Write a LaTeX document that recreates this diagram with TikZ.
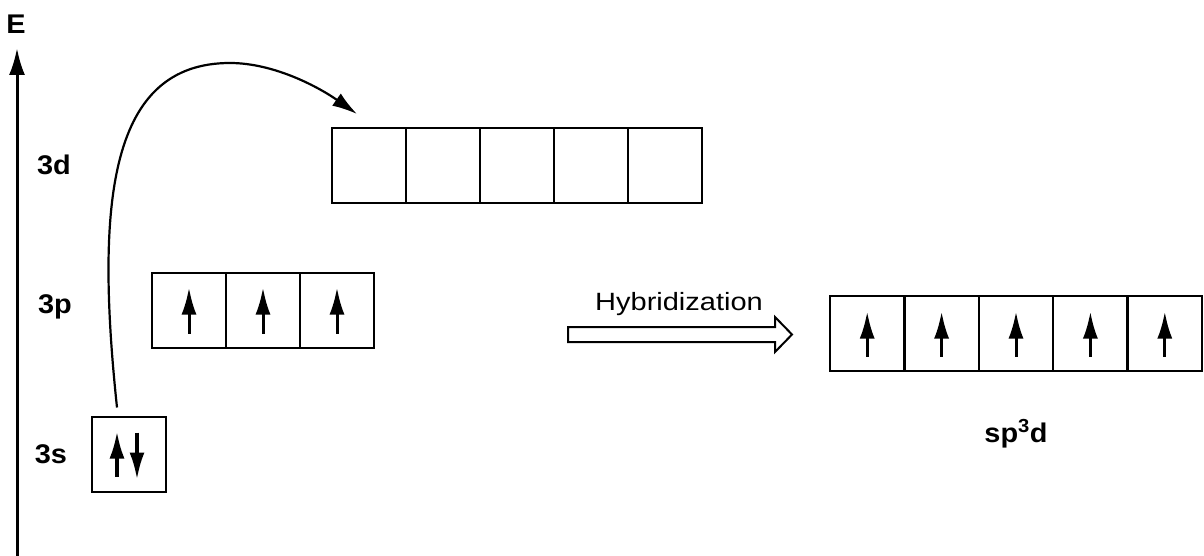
\documentclass[tikz,border=0pt]{standalone}
\usepackage{graphicx}
\usepackage{fontspec}
\setmainfont{Liberation Sans}
\usetikzlibrary{arrows.meta}

\tikzset{
  orb/.style={draw, line width=2pt, minimum width=74pt, minimum height=75pt, inner sep=0pt, outer sep=0pt},
  spin/.style={line width=3pt, -{Latex[length=27pt,width=15pt]}},
  lvl/.style={font=\fontsize{27}{32}\selectfont\bfseries, anchor=base, inner sep=0pt},
}
\newcommand{\wide}[1]{\scalebox{1.07}[1]{#1}}

\begin{document}
\begin{tikzpicture}[x=1pt,y=-1pt]
\useasboundingbox (0,0) rectangle (1204,556);

% energy axis
\coordinate (Ebot) at (17,556);
\coordinate (Etop) at (17,48);
\draw[line width=3pt, -{Latex[length=27pt,width=16pt]}] (Ebot) -- (Etop);
\node[lvl] (E) at (16,34) {\wide{E}};

% level labels
\node[lvl] (l3d) at (54,175) {\wide{3d}};
\node[lvl] (l3p) at (55,313) {\wide{3p}};
\node[lvl] (l3s) at (51,463) {\wide{3s}};

% orbital boxes
\foreach \i in {1,...,5}
  \node[orb] (d\i) at ({369+74*(\i-1)},165.5) {};
\foreach \i in {1,2,3}
  \node[orb] (p\i) at ({189+74*(\i-1)},310.5) {};
\node[orb] (s1) at (128.5,454.5) {};
\foreach \i in {1,...,5}
  \node[orb] (h\i) at ({867.2+74.4*(\i-1)},333.5) {};

% electrons
\foreach \i in {1,2,3}
  \draw[spin] ([yshift=-23pt]p\i.center) -- ([yshift=23pt]p\i.center);
\foreach \i in {1,...,5}
  \draw[spin] ([yshift=-23pt]h\i.center) -- ([yshift=22pt]h\i.center);
\draw[spin, line width=3.4pt] ([xshift=-11.5pt,yshift=-22pt]s1.center) -- ([xshift=-11.5pt,yshift=23pt]s1.center);
\draw[spin, line width=3.4pt] ([xshift=8.5pt,yshift=22pt]s1.center) -- ([xshift=8.5pt,yshift=-25pt]s1.center);

% promotion 3s -> 3d
\coordinate (cs) at ([xshift=-11.5pt,yshift=47pt]s1.center);
\coordinate (ce) at ([xshift=25pt,yshift=14pt]d1.north west);
\coordinate (ctop) at (230,63);
\draw[line width=2.2pt, -{Latex[length=25pt,width=15pt]}] (cs) .. controls (95,200) and (110,63) .. (ctop) .. controls (275,63) and (320,88) .. (ce);

% hybridization arrow
\coordinate (hA) at (568,334.5);
\coordinate (hB) at (792,334.5);
\draw[line width=2pt] (hA) ++(0,-7.5) -- ++(207,0) -- ++(0,-10) -- (hB) -- ++(-17,17.5) -- ++(0,-10) -- ++(-207,0) -- cycle;
\node[font=\fontsize{25}{30}\selectfont, anchor=base, inner sep=0pt] (hyb) at (679,310) {\scalebox{1.16}[1]{Hybridization}};

\node[lvl] (sp3d) at (1016,442) {\wide{sp\textsuperscript{3}d}};
\end{tikzpicture}
\end{document}
